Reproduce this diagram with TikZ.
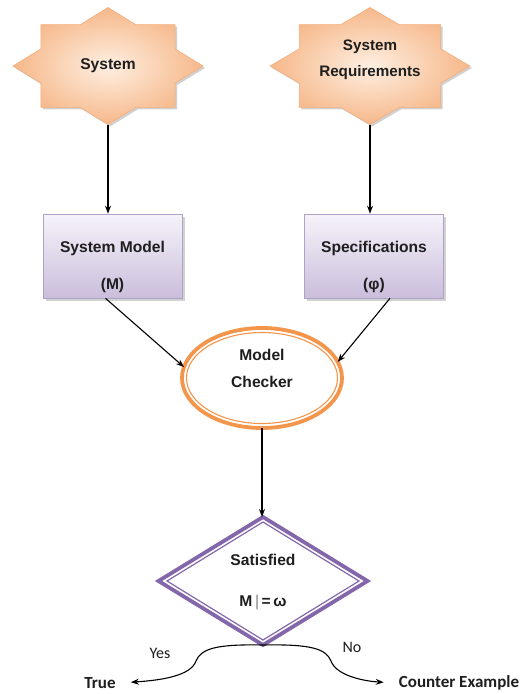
\documentclass[tikz,border=0pt]{standalone}
\usepackage{fontspec}
\setmainfont{Liberation Sans}
\newfontfamily\calibrifont{Carlito}
\usetikzlibrary{shapes.geometric,arrows.meta,shadows,calc}

\definecolor{txt}{HTML}{1E1E1E}
\definecolor{starin}{HTML}{FEEFE2}
\definecolor{starout}{HTML}{F6B88A}
\definecolor{staredge}{HTML}{F2AE7C}
\definecolor{boxtop}{HTML}{F6F3FA}
\definecolor{boxbot}{HTML}{CABEDC}
\definecolor{boxedge}{HTML}{AFA2C4}
\definecolor{mcorange}{HTML}{F3954A}
\definecolor{dpurple}{HTML}{8467AA}

\tikzset{
  lbl/.style={font=\fontsize{15.6}{18}\selectfont\bfseries, text=txt, inner sep=1pt},
  small/.style={font=\calibrifont\fontsize{16}{18}\selectfont, text=txt, inner sep=1pt},
  result/.style={font=\calibrifont\fontsize{17}{20}\selectfont\bfseries, text=txt, inner sep=3pt},
  conn/.style={draw=black, line width=1.1pt, -{Stealth[length=8pt,width=6pt]}},
  anchorbox/.style={minimum width=190pt, minimum height=117pt, inner sep=0pt, outer sep=0pt},
  modelbox/.style={rectangle, minimum width=139pt, minimum height=84pt, draw=boxedge,
    line width=0.6pt, shading=axis, top color=boxtop, bottom color=boxbot,
    drop shadow={opacity=0.35, shadow xshift=2.5pt, shadow yshift=-2.5pt}},
  starfill/.style={shading=radial, inner color=starin, outer color=starout,
    draw=staredge, line width=0.6pt}
}

% eight-pointed star of given half width / half height, centred at a point
\newcommand{\eightstar}[4]{%
  \begin{scope}[shift={(#1+2,#2+2)}, xscale=#3, yscale=#4]
    \fill[black, opacity=0.18] (0:1) -- (22.5:.765) -- (45:1) -- (67.5:.765) -- (90:1)
      -- (112.5:.765) -- (135:1) -- (157.5:.765) -- (180:1) -- (202.5:.765) -- (225:1)
      -- (247.5:.765) -- (270:1) -- (292.5:.765) -- (315:1) -- (337.5:.765) -- cycle;
  \end{scope}
  \begin{scope}[shift={(#1,#2)}, xscale=#3, yscale=#4]
    \path[starfill] (0:1) -- (22.5:.765) -- (45:1) -- (67.5:.765) -- (90:1)
      -- (112.5:.765) -- (135:1) -- (157.5:.765) -- (180:1) -- (202.5:.765) -- (225:1)
      -- (247.5:.765) -- (270:1) -- (292.5:.765) -- (315:1) -- (337.5:.765) -- cycle;
  \end{scope}}

\begin{document}
\begin{tikzpicture}[x=1pt, y=-1pt]
  \useasboundingbox[fill=white] (0,0) rectangle (528,694);

  % input stars
  \eightstar{108}{66}{95}{58.5}
  \eightstar{370}{66}{100}{58.5}
  \node[anchorbox, lbl] (sys) at (108,66) {System};
  \node[anchorbox] (req) at (370,66) {};
  \node[lbl, align=center, font=\fontsize{15.2}{26}\selectfont\bfseries] (reqtxt) at (370,60) {System\\Requirements};

  % model and specification boxes
  \node[modelbox] (sm) at (112.5,256) {};
  \node[lbl] (smt) at (112.5,248) {System Model};
  \node[lbl] (smm) at (112.5,285) {(M)};
  \node[modelbox] (spec) at (374,256) {};
  \node[lbl] (spt) at (374,248) {Specifications};
  \node[lbl] (spp) at (374,285) {(φ)};

  % model checker
  \node[ellipse, draw=mcorange, line width=3.8pt, minimum width=160pt, minimum height=100pt,
        inner sep=0pt, outer sep=0pt] (mc) at (262,378) {};
  \draw[mcorange, line width=1.1pt] (mc.center) ellipse [x radius=75.5, y radius=45.5];
  \node[lbl] (mct1) at (262,355) {Model};
  \node[lbl] (mct2) at (262,382) {Checker};

  % decision
  \node[diamond, draw=dpurple, line width=3.8pt, minimum width=209pt, minimum height=128pt,
        inner sep=0pt, outer sep=0pt] (dia) at (263,581) {};
  \draw[dpurple, line width=1.2pt]
    ($(dia.north)+(0,5)$) -- ($(dia.east)+(-8.5,0)$) -- ($(dia.south)+(0,-5)$)
    -- ($(dia.west)+(8.5,0)$) -- cycle;
  \node[lbl] (sat) at (263,560) {Satisfied};
  \node[lbl] (sat2) at (263,602) {M{\mdseries\color{gray}\,|}\,=\,ω};

  % outcomes
  \node[result] (tru) at (100,683) {True};
  \node[result] (cex) at (459,683) {Counter Example};
  \node[small] (yes) at (160,653) {Yes};
  \node[small] (no) at (352,647) {No};

  % connectors
  \draw[conn] (sys.south) -- (sys.south |- sm.north);
  \draw[conn] (req.south) -- (req.south |- spec.north);
  \draw[conn] ($(sm.south)+(-7,0)$) -- (mc.172);
  \draw[conn] ($(spec.south)+(16,0)$) -- (mc.12);
  \draw[conn] (mc.south) -- (mc.south |- dia.north);
  \draw[conn, shorten >=12pt] (dia.south) .. controls (215,644) and (201,649) .. (196,661)
    .. controls (191,675) and (165,680) .. (tru.east);
  \draw[conn, shorten >=12pt] (dia.south) .. controls (312,644) and (326,649) .. (331,661)
    .. controls (336,675) and (362,681) .. (cex.west);
\end{tikzpicture}
\end{document}
